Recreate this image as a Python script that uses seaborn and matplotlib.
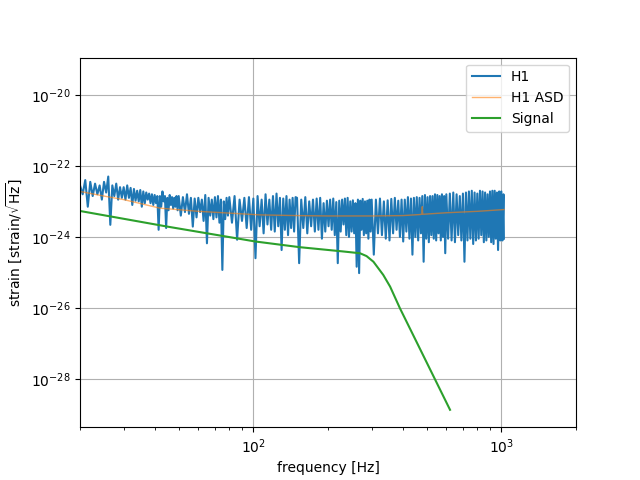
import numpy as np
import pandas as pd
import seaborn as sns
import matplotlib
matplotlib.use('Agg')
import matplotlib.pyplot as plt

# H1 amplitude spectrum, log10 of strain/sqrt(Hz)
h1_freq_a = [20, 20.5, 21, 21.5, 22, 22.5, 23, 23.5, 24, 24.5, 25, 25.5, 26, 26.5, 27, 27.5, 28, 28.5, 29, 29.5]
h1_log_a = [-22.55, -22.80, -22.40, -23.15, -22.45, -22.85, -22.50, -22.80, -22.55, -22.95,
            -22.45, -22.75, -22.30, -23.66, -22.55, -22.85, -22.50, -22.95, -22.60, -22.90]

h1_freq_b = [30, 30.5, 31, 31.5, 32, 32.5, 33, 33.5, 34, 34.5, 35, 35.5, 36, 36.5, 37, 37.5, 38, 38.5, 39, 39.5,
             40, 40.5, 41, 41.5, 42, 42.5, 43, 43.5, 44, 44.5, 45, 45.5, 46, 46.5, 47, 47.5, 48, 48.5, 49, 49.5]
h1_log_b = [-22.60, -22.95, -22.55, -22.90, -22.62, -23.10, -22.65, -22.98, -22.70, -23.00,
            -22.68, -23.15, -22.72, -23.05, -22.75, -22.95, -22.78, -23.05, -22.80, -23.10,
            -22.82, -23.05, -22.85, -23.80, -22.85, -23.15, -22.72, -23.00, -22.85, -23.75,
            -22.90, -23.25, -22.82, -23.10, -22.88, -23.20, -22.90, -23.15, -22.85, -23.25]

h1_freq_c = [50, 51, 52, 53, 54, 55, 56, 57, 58, 59, 60, 61, 62, 63, 64,
             65, 66, 67, 68, 69, 70, 71, 72, 73, 74, 75, 76, 77, 78, 79]
h1_log_c = [-22.85, -23.40, -22.88, -23.30, -22.80, -23.35, -22.90, -23.71, -22.92, -23.45,
            -22.90, -23.30, -22.95, -23.55, -22.82, -24.18, -22.90, -23.40, -22.95, -23.50,
            -22.88, -23.45, -22.85, -23.60, -22.95, -24.93, -23.00, -23.50, -22.90, -23.40]

h1_freq_d = [80, 82, 84, 86, 88, 90, 92, 94, 96, 98, 100, 102, 104, 106, 108, 110, 112, 114,
             116, 118, 120, 122, 124, 126, 128, 130, 132, 134, 136, 138, 140, 142, 144, 146, 148]
h1_log_d = [-22.88, -23.60, -22.85, -24.08, -22.95, -23.55, -22.90, -23.75, -22.88, -23.80,
            -22.92, -24.60, -22.85, -23.70, -22.95, -23.90, -22.80, -23.65, -22.95, -23.80,
            -22.85, -23.85, -22.78, -23.70, -22.90, -24.37, -22.92, -23.80, -22.85, -23.95,
            -22.95, -23.75, -22.90, -23.85, -22.88]

h1_freq_e = [150, 153, 156, 159, 162, 165, 168, 171, 174, 177, 180, 183, 186, 189, 192, 195, 198,
             201, 204, 207, 210, 213, 216, 219, 222, 225, 228, 231, 234, 237, 240, 243, 246, 249,
             252, 255, 258, 261, 264, 267, 270, 273, 276, 279, 282, 285, 288, 291, 294, 297]
h1_log_e = [-22.90, -24.74, -22.95, -23.75, -22.88, -23.90, -23.00, -23.70, -22.95, -23.85,
            -22.92, -23.80, -22.90, -24.05, -23.05, -23.85, -22.98, -23.70, -22.95, -23.80,
            -22.92, -23.95, -23.02, -24.74, -22.98, -23.85, -22.95, -23.65, -22.92, -23.95,
            -22.90, -24.00, -23.00, -23.85, -22.97, -23.90, -23.05, -24.84, -22.95, -25.02,
            -22.98, -23.80, -22.93, -23.95, -23.00, -23.90, -22.98, -24.05, -22.95, -23.85]

h1_freq_f = [300, 306, 312, 318, 324, 330, 336, 342, 348, 354, 360, 366, 372, 378, 384, 390, 396,
             402, 408, 414, 420, 426, 432, 438, 444, 450, 456, 462, 468, 474, 480, 486, 492, 498,
             504, 510, 516, 522, 528, 534, 540, 546, 552, 558, 564, 570, 576, 582, 588, 594]
h1_log_f = [-22.95, -24.50, -22.95, -23.90, -22.92, -23.95, -23.00, -24.05, -22.97, -24.10,
            -22.93, -23.90, -22.90, -23.80, -22.98, -24.00, -22.95, -24.13, -22.95, -23.85,
            -22.88, -24.05, -22.92, -24.50, -22.90, -24.00, -22.88, -24.10, -22.90, -23.90,
            -22.85, -24.70, -22.82, -24.05, -22.88, -24.15, -22.85, -23.95, -22.85, -24.05,
            -22.80, -24.10, -22.82, -23.90, -22.85, -24.10, -22.80, -24.00, -22.85, -24.46]

h1_freq_g = [600, 610, 620, 630, 640, 650, 660, 670, 680, 690, 700, 710, 720, 730, 740, 750, 760,
             770, 780, 790, 800, 810, 820, 830, 840, 850, 860, 870, 880, 890, 900, 910, 920, 930,
             940, 950, 960, 970, 980, 990, 1000, 1010, 1020, 1024]
h1_log_g = [-22.80, -24.05, -22.78, -24.10, -22.75, -24.15, -22.80, -23.95, -22.85, -24.10,
            -22.78, -24.70, -22.75, -24.10, -22.72, -24.05, -22.70, -24.20, -22.75, -24.10,
            -22.78, -24.05, -22.70, -23.95, -22.72, -24.15, -22.75, -24.10, -22.80, -24.00,
            -22.72, -24.15, -22.70, -24.20, -22.70, -24.05, -22.75, -24.37, -22.72, -24.10,
            -22.72, -24.10, -22.80, -24.05]

# H1 ASD
asd_freq = [20, 25, 30, 42, 60, 80, 106, 150, 200, 300, 400, 470, 478, 480, 482, 490, 600, 800, 1024]
asd_log = [-22.72, -22.85, -22.95, -23.19, -23.28, -23.33, -23.38, -23.40, -23.41, -23.41, -23.40, -23.37,
           -23.36, -23.15, -23.36, -23.36, -23.32, -23.28, -23.23]

# signal template
sig_freq = [20, 45, 102, 154, 230, 269, 286, 305, 334, 356, 390, 456, 621]
sig_log = [-23.27, -23.71, -24.13, -24.29, -24.41, -24.46, -24.54, -24.70, -25.07, -25.40, -26.01, -26.97, -28.87]

h1_freq = h1_freq_a + h1_freq_b + h1_freq_c + h1_freq_d + h1_freq_e + h1_freq_f + h1_freq_g
h1_log = h1_log_a + h1_log_b + h1_log_c + h1_log_d + h1_log_e + h1_log_f + h1_log_g

h1 = pd.DataFrame({'freq': h1_freq, 'strain': 10.0 ** np.array(h1_log)})
asd = pd.DataFrame({'freq': asd_freq, 'strain': 10.0 ** np.array(asd_log)})
sig = pd.DataFrame({'freq': sig_freq, 'strain': 10.0 ** np.array(sig_log)})

fig, ax = plt.subplots(figsize=(6.4, 4.8), dpi=100)
ax.set_xscale('log')
ax.set_yscale('log')
sns.lineplot(data=h1, x='freq', y='strain', ax=ax, color='C0', lw=1.5, sort=False, estimator=None, label='H1')
sns.lineplot(data=asd, x='freq', y='strain', ax=ax, color='C1', lw=1, alpha=0.6, sort=False, estimator=None, label='H1 ASD')
sns.lineplot(data=sig, x='freq', y='strain', ax=ax, color='C2', lw=1.5, sort=False, estimator=None, label='Signal')

ax.set_xlim(20, 2000)
ax.set_ylim(10 ** -29.36, 10 ** -18.95)
ax.grid(True)
ax.set_xlabel('frequency [Hz]')
ax.set_ylabel(r'strain [strain/$\sqrt{\mathrm{Hz}}$]')
ax.legend(loc='upper right')

plt.savefig('out.png', dpi=100)
